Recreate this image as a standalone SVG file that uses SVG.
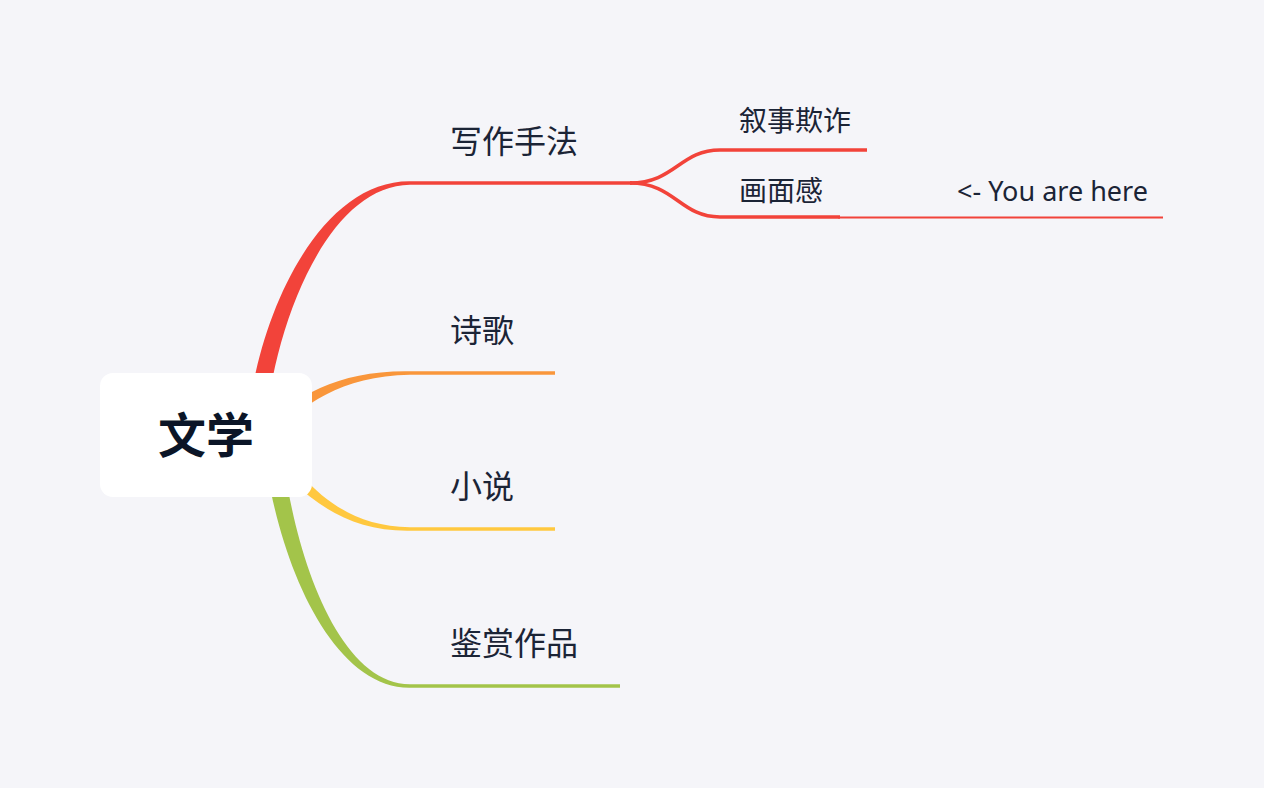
<svg xmlns="http://www.w3.org/2000/svg" width="1264" height="788" viewBox="0 0 1264 788">
  <style>
    .lbl { font-family: "Noto Sans", "Noto Sans CJK SC", sans-serif; fill: #1b2436; }
    .main { font-size: 32px; }
    .sub { font-size: 28px; }
    .note { font-size: 27px; }
    .root { font-family: "Noto Sans CJK SC", sans-serif; font-size: 48px; font-weight: 700; fill: #0b1527; }
    .ln { fill: none; stroke-width: 3.5; stroke-linecap: butt; }
  </style>
  <rect x="0" y="0" width="1264" height="788" fill="#f5f5f9"/>
  <g id="connectors">
    <path d="M 247,435 C 252.5,327.5 315,180.5 410,181.2 L 410,184.8 C 325,185.5 271.5,332.5 265,435 Z" fill="#f2433a"/>
    <path d="M 257.2,429.9 C 296.6,395.7 339.3,370.1 410,371.3 L 410,374.7 C 340.7,375.9 303.4,404.3 266.8,440.1 Z" fill="#f9963b"/>
    <path d="M 256.3,439.1 C 295.8,491.5 339,531.8 410,530.7 L 410,527.3 C 341,526.2 304.2,484.5 267.7,430.9 Z" fill="#ffc83f"/>
    <path d="M 263,435 C 271,542 326,688.5 410,687.7 L 410,684.3 C 334,684 289,538 281,435 Z" fill="#a3c44a"/>
    <line class="ln" x1="410" y1="183" x2="632" y2="183" stroke="#f2433a"/>
    <line class="ln" x1="410" y1="373" x2="555" y2="373" stroke="#f9963b"/>
    <line class="ln" x1="410" y1="529" x2="555" y2="529" stroke="#ffc83f"/>
    <line class="ln" x1="410" y1="686" x2="620" y2="686" stroke="#a3c44a"/>
    <path class="ln" d="M 630,183 C 675,183 680,150 720,150 L 867,150" stroke="#f2433a"/>
    <path class="ln" d="M 630,183 C 675,183 680,217 720,217 L 840,217" stroke="#f2433a"/>
    <line x1="838" y1="217.5" x2="1163" y2="217.5" stroke="#f2433a" stroke-width="2"/>
  </g>
  <g id="node-root">
    <rect x="100" y="373" width="212" height="124" rx="13" fill="#ffffff"/>
    <text class="root" x="206" y="453" text-anchor="middle">文学</text>
  </g>
  <g id="node-xiezuo">
    <text class="lbl main" x="450" y="153">写作手法</text>
  </g>
  <g id="node-shige">
    <text class="lbl main" x="450" y="342">诗歌</text>
  </g>
  <g id="node-xiaoshuo">
    <text class="lbl main" x="450" y="498">小说</text>
  </g>
  <g id="node-jianshang">
    <text class="lbl main" x="450" y="655">鉴赏作品</text>
  </g>
  <g id="node-xushi">
    <text class="lbl sub" x="739" y="131">叙事欺诈</text>
  </g>
  <g id="node-huamian">
    <text class="lbl sub" x="739" y="201">画面感</text>
  </g>
  <g id="node-here">
    <text class="lbl note" x="957" y="201">&lt;- You are here</text>
  </g>
</svg>
